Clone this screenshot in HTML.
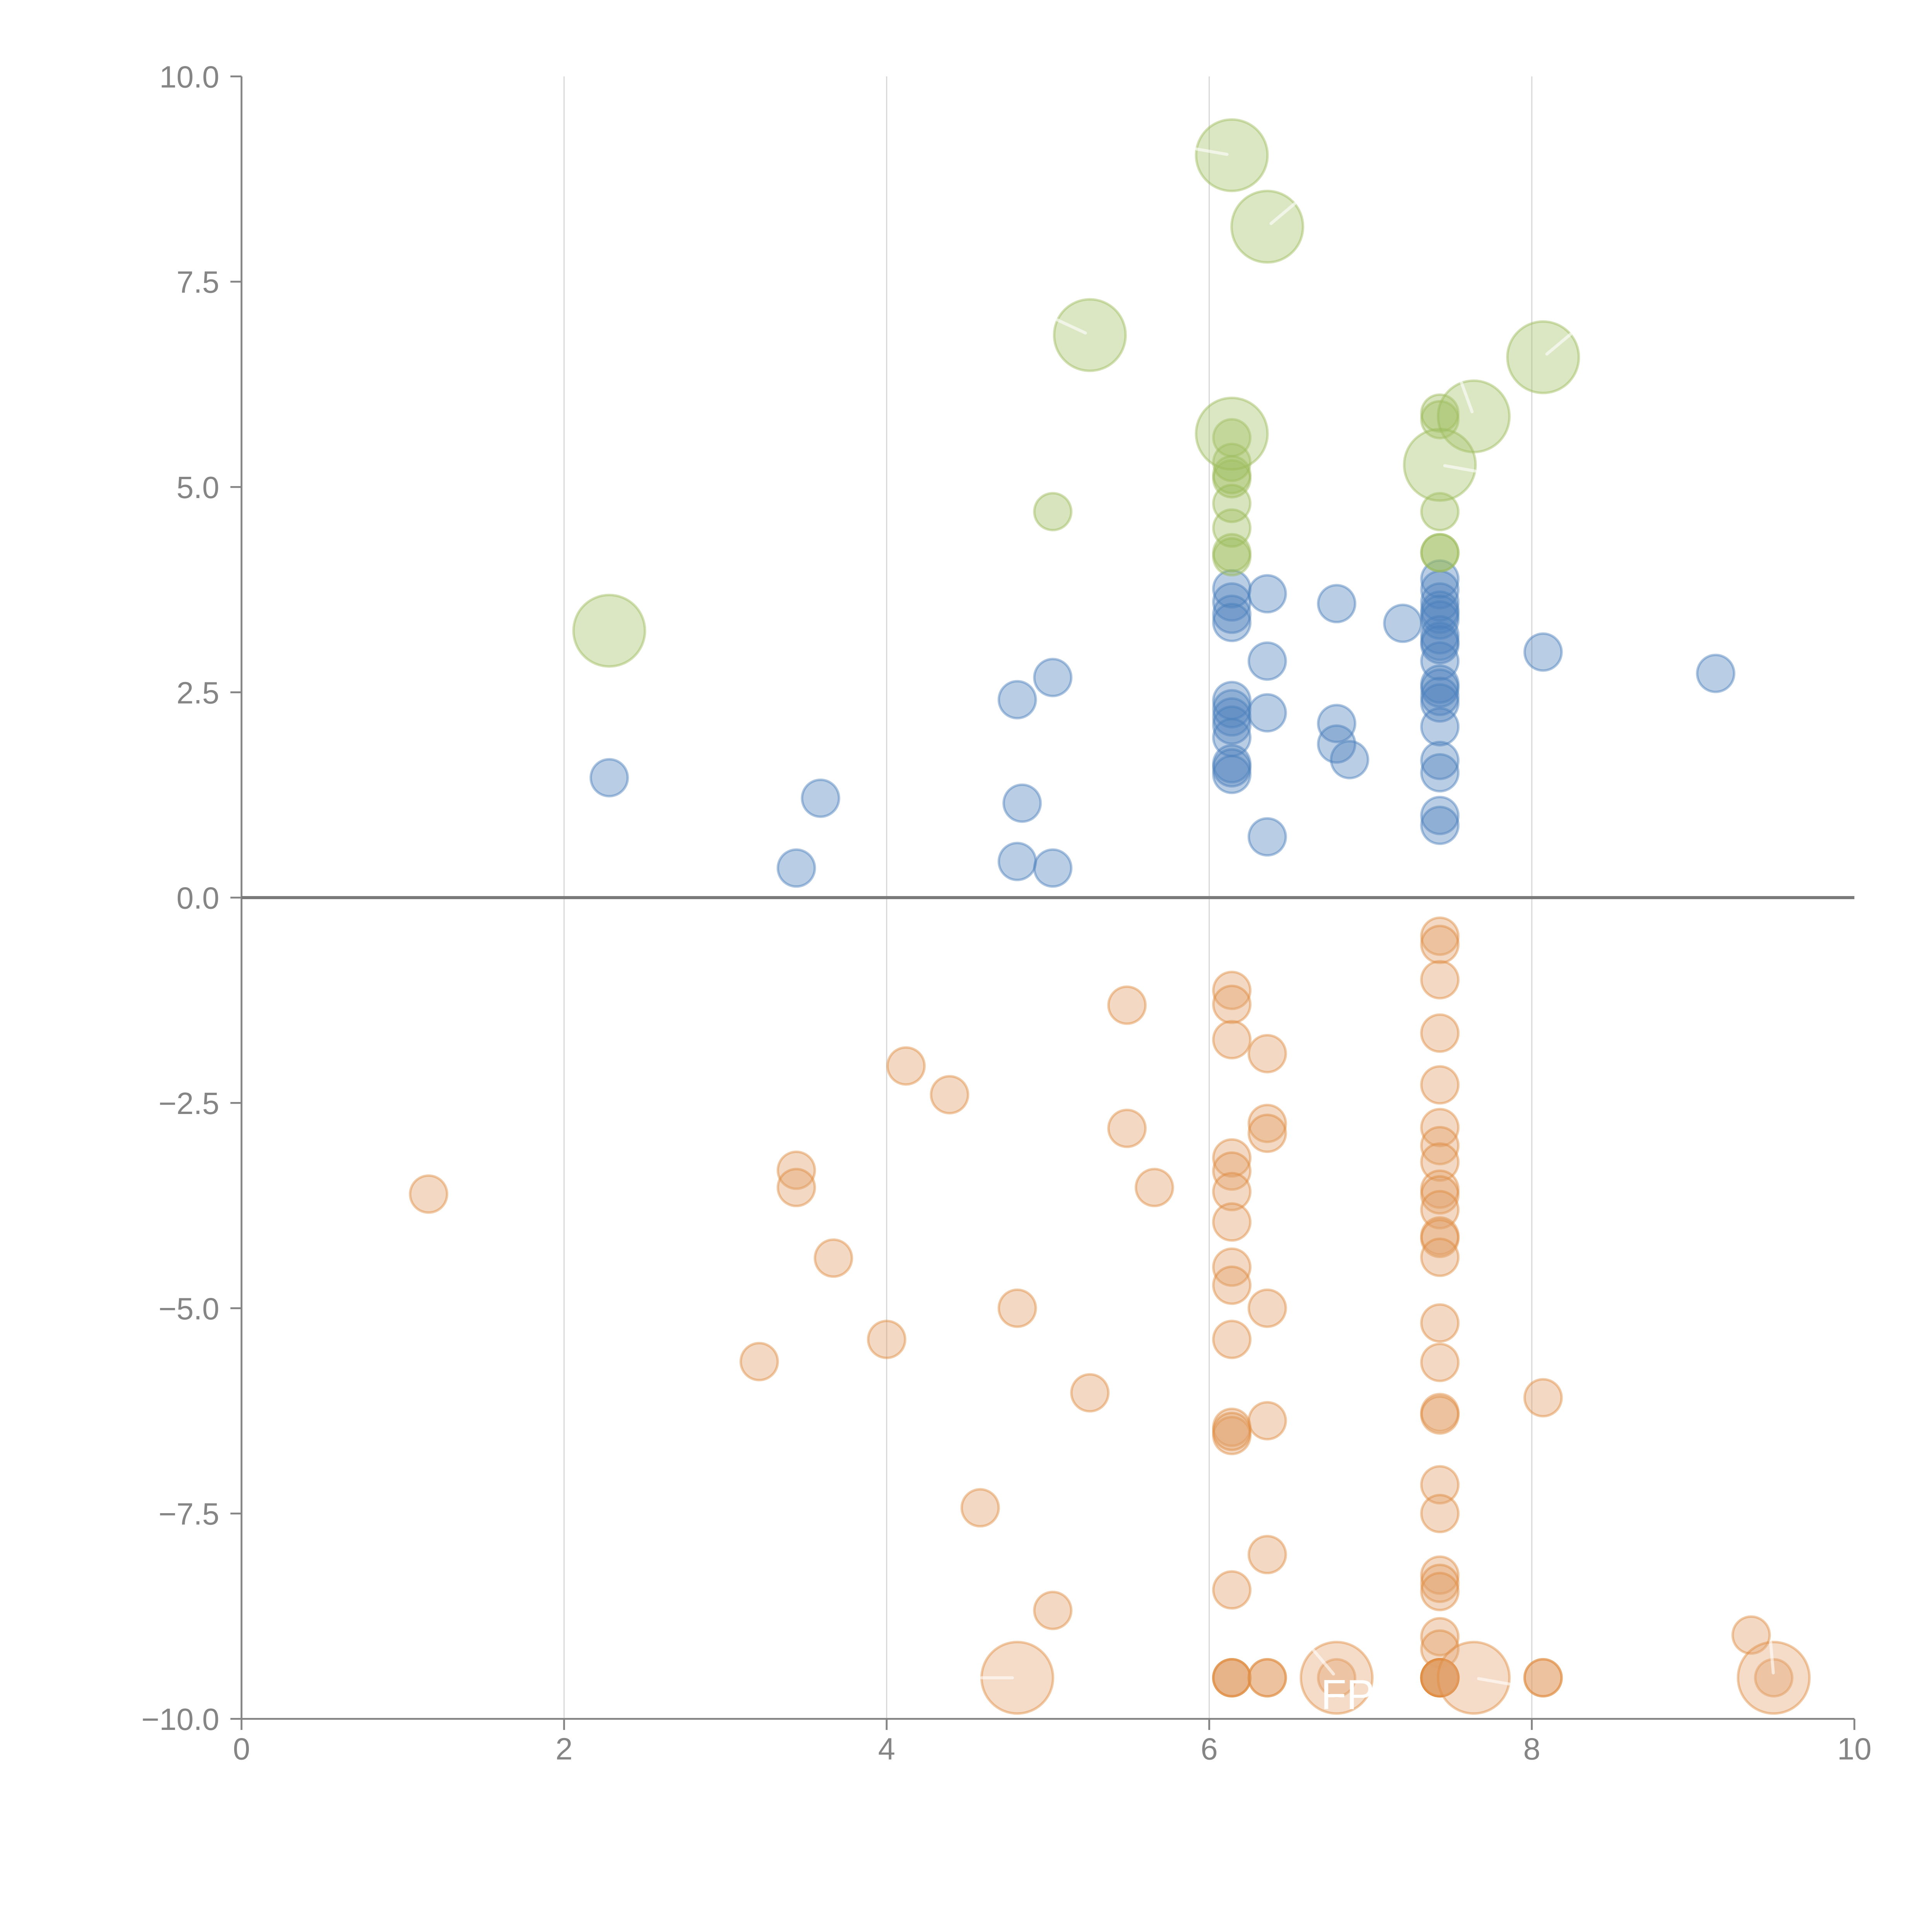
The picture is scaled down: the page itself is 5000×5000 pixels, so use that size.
<!DOCTYPE html>
<html><head><meta charset="utf-8"><style>
html,body{margin:0;padding:0;background:#fff;}
svg{display:block;}
text{font-family:"Liberation Sans",Arial,sans-serif;}
</style></head>
<body>
<svg id="chart" width="5000" height="5000" viewBox="0 0 1568 1568" xmlns="http://www.w3.org/2000/svg">
<g id="grid"></g>
<g id="axes"></g>
<g id="marks"></g>
<text x="1072" y="1387" font-size="34" fill="#fff">FP</text>
</svg>
<script>
const xTicks=[0,2,4,6,8,10];
const yTicks=[10,7.5,5,2.5,0,-2.5,-5,-7.5,-10];
const yTickLabels=["10.0","7.5","5.0","2.5","0.0","\u22122.5","\u22125.0","\u22127.5","\u221210.0"];
const blueX=[2.28,3.59,3.44,4.81,5.03,4.84,4.81,5.03,6.14,6.14,6.14,6.14,6.14,6.14,6.14,6.14,6.14,6.14,6.14,6.14,6.36,6.36,6.36,6.36,6.79,6.79,6.79,6.87,7.2,7.43,7.43,7.43,7.43,7.43,7.43,7.43,7.43,7.43,7.43,7.43,7.43,7.43,7.43,7.43,7.43,7.43,7.43,7.43,8.07,9.14];
const blueY=[1.46,1.21,0.36,2.41,2.68,1.15,0.44,0.36,3.76,3.6,3.45,3.35,2.4,2.3,2.2,2.1,1.95,1.63,1.58,1.5,3.7,2.88,2.25,0.74,3.58,2.12,1.87,1.68,3.34,3.88,3.75,3.6,3.5,3.45,3.38,3.2,3.12,3.08,2.88,2.6,2.55,2.45,2.37,2.08,1.67,1.52,1.0,0.88,2.99,2.73];
const greenSmallX=[5.03,6.14,6.14,6.14,6.14,6.14,6.14,6.14,6.14,7.43,7.43,7.43,7.43,7.43];
const greenSmallY=[4.7,5.6,5.3,5.15,5.1,4.8,4.5,4.2,4.15,5.9,5.82,4.7,4.2,4.2];
const greenBigX=[2.28,6.14,6.36,5.26,6.14,8.07,7.64,7.43];
const greenBigY=[3.25,9.04,8.17,6.85,5.65,6.58,5.86,5.27];
const greenBigAngle=[null,-170,-40,-155,null,-40,-110,10];
const orangeX=[1.16,3.21,3.44,3.44,3.67,4.0,4.12,4.39,4.58,4.81,5.03,5.26,5.49,5.49,5.66,
6.14,6.14,6.14,6.14,6.14,6.14,6.14,6.14,6.14,6.14,6.14,6.14,6.14,6.14,6.14,6.14,6.14,
6.36,6.36,6.36,6.36,6.36,6.36,6.36,6.36,6.79,
7.43,7.43,7.43,7.43,7.43,7.43,7.43,7.43,7.43,7.43,7.43,7.43,7.43,7.43,7.43,7.43,7.43,7.43,7.43,7.43,7.43,7.43,7.43,7.43,7.43,7.43,7.43,7.43,7.43,7.43,7.43,
8.07,8.07,8.07,9.36,9.5];
const orangeY=[-3.61,-5.65,-3.32,-3.53,-4.39,-5.38,-2.05,-2.4,-7.43,-5.0,-8.68,-6.03,-1.31,-2.81,-3.53,
-1.13,-1.3,-1.73,-3.17,-3.33,-3.58,-3.95,-4.5,-4.72,-5.38,-6.45,-6.55,-6.5,-8.43,-9.5,-9.5,-9.5,
-1.9,-2.75,-2.87,-5.0,-6.37,-8.0,-9.5,-9.5,-9.5,
-0.47,-0.57,-1.0,-1.65,-2.28,-2.8,-3.02,-3.22,-3.55,-3.62,-3.8,-4.12,-4.15,-4.38,-5.18,-5.66,-6.27,-6.3,-7.15,-7.5,-8.25,-8.35,-8.45,-9.0,-9.15,-9.5,-9.5,-9.5,-9.5,-9.5,-9.5,
-6.09,-9.5,-9.5,-8.98,-9.5];
const orangeBigX=[4.81,6.79,7.64,9.5];
const orangeBigY=[-9.5,-9.5,-9.5,-9.5];
const orangeBigAngle=[180,-130,10,-95];

const NS="http://www.w3.org/2000/svg";
const X0=196,X1=1505,Y0=1395,Y1=62;
function xs(v){return X0+(v-0)/(10-0)*(X1-X0);}
function ys(v){return Y0-(v+10)/20*(Y0-Y1);}
function mk(tag,attrs,parent){const e=document.createElementNS(NS,tag);for(const k in attrs)e.setAttribute(k,attrs[k]);parent.appendChild(e);return e;}
const grid=document.getElementById('grid'),axes=document.getElementById('axes'),marks=document.getElementById('marks');

xTicks.forEach(t=>{
  if(t>0&&t<10){const l=mk('line',{x1:xs(t),x2:xs(t),y1:Y1,y2:Y0,stroke:'#d9d9d9','stroke-width':1},grid);
  
  }
  const tk=mk('line',{x1:xs(t),x2:xs(t),y1:Y0,y2:Y0+9,stroke:'#858585','stroke-width':1.5},axes);
  
  
  const tx=mk('text',{x:xs(t),y:Y0+33,'font-size':25,fill:'#858585','text-anchor':'middle'},axes);
  tx.textContent=t;
  
  
});
yTicks.forEach((t,i)=>{
  const tk=mk('line',{x1:X0-9,x2:X0,y1:ys(t),y2:ys(t),stroke:'#858585','stroke-width':1.5},axes);
  
  
  const tx=mk('text',{x:X0-18,y:ys(t)+9,'font-size':25,fill:'#858585','text-anchor':'end'},axes);
  tx.textContent=yTickLabels[i];
  
  
});
const ya=mk('line',{x1:X0,x2:X0,y1:Y1,y2:Y0,stroke:'#858585','stroke-width':1.5},axes);


const xa=mk('line',{x1:X0,x2:X1,y1:Y0,y2:Y0,stroke:'#858585','stroke-width':1.5},axes);


const zl=mk('line',{x1:X0,x2:X1,y1:ys(0),y2:ys(0),stroke:'#7a7a7a','stroke-width':2.5},axes);



function bubbles(xa,ya,r,fill,stroke,name,angles){
  xa.forEach((v,i)=>{
    const cx=xs(v),cy=ys(ya[i]);
    const c=mk('circle',{cx:cx,cy:cy,r:r,fill:fill,'fill-opacity':0.4,stroke:stroke,'stroke-opacity':0.45,'stroke-width':2},marks);
    
    
    if(angles&&angles[i]!==null){
      const a=angles[i]*Math.PI/180;
      const l=mk('line',{x1:cx+Math.cos(a)*4,y1:cy+Math.sin(a)*4,x2:cx+Math.cos(a)*r,y2:cy+Math.sin(a)*r,stroke:'#fff','stroke-opacity':0.6,'stroke-width':2.5,'stroke-linecap':'round'},marks);
      
      
    }
  });
}
bubbles(orangeX,orangeY,15,'#e0a06a','#e08a3c','orange-bubble');
bubbles(orangeBigX,orangeBigY,29,'#e3a875','#e08a3c','orange-big-bubble',orangeBigAngle);
bubbles(blueX,blueY,15,'#4f81bd','#4a7ebb','blue-bubble');
bubbles(greenSmallX,greenSmallY,15,'#9bbb59','#9bbb59','green-bubble');
bubbles(greenBigX,greenBigY,29,'#a6c46a','#9bbb59','green-big-bubble',greenBigAngle);
</script>
</body></html>
